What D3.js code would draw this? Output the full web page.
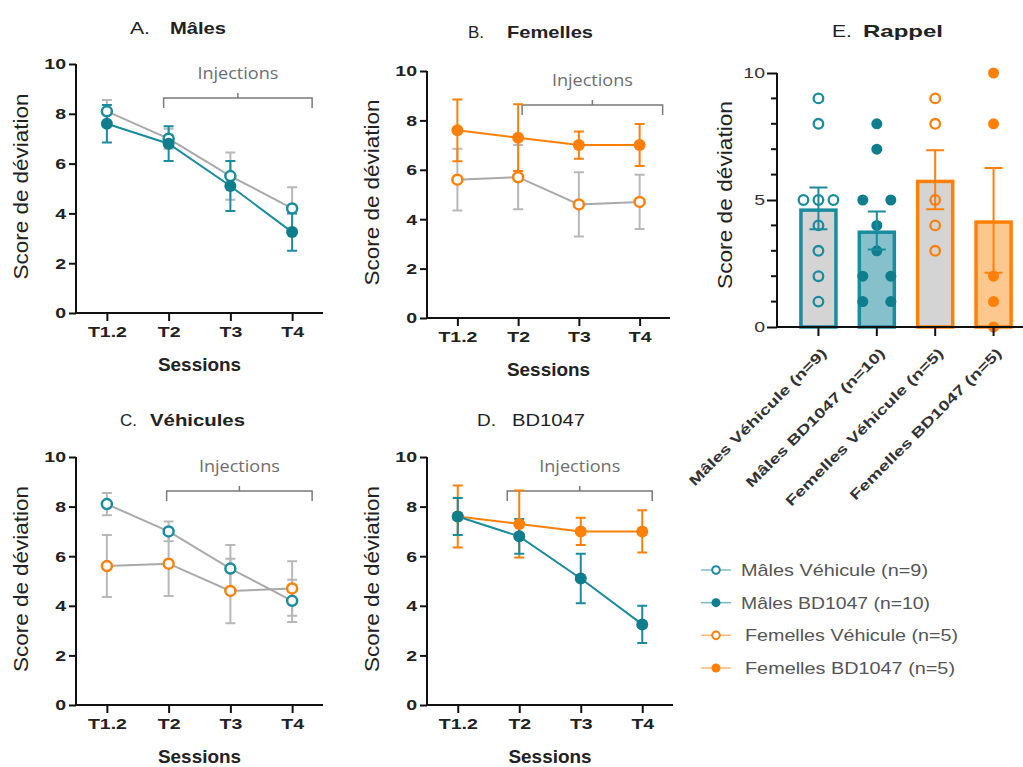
<!DOCTYPE html>
<html><head><meta charset="utf-8">
<script src="https://cdn.jsdelivr.net/npm/d3@7"></script>
<style>body{margin:0;background:#fff}svg{display:block}</style>
</head><body>
<svg id="c" width="1023" height="767"></svg>
<script>
// ---------- DATA ----------
const sessions = ["T1.2","T2","T3","T4"];
const yTicksLine = [0,2,4,6,8,10];
const malesVehMean = [8.1, 7.0, 5.5, 4.2];
const malesVehSem  = [0.45, 0.4, 0.95, 0.85];
const malesBDMean  = [7.6, 6.8, 5.1, 3.25];
const malesBDSem   = [0.75, 0.7, 1.0, 0.75];
const femVehMean   = [5.6, 5.7, 4.6, 4.7];
const femVehSem    = [1.25, 1.3, 1.3, 1.1];
const femBDMean    = [7.6, 7.3, 7.0, 7.0];
const femBDSem     = [1.25, 1.35, 0.55, 0.85];

const groups = ["Mâles Véhicule (n=9)","Mâles BD1047 (n=10)","Femelles Véhicule (n=5)","Femelles BD1047 (n=5)"];
const rappelMean = [4.67, 3.8, 5.8, 4.2];
const rappelSem  = [0.82, 0.75, 1.16, 2.06];
const rappelMalesVeh = [9,8,5,5,5,4,3,2,1];
const rappelMalesBD  = [8,7,5,5,4,3,2,2,1,1];
const rappelFemVeh   = [9,8,5,4,3];
const rappelFemBD    = [10,8,2,1,0];
const yTicksRappel = [0,5,10];
const yMinorRappel = [1,2,3,4,6,7,8,9];

// ---------- STYLE ----------
const TEAL = "#1a8c9e", TEAL_D = "#0e7d8d", ORANGE = "#ff8008", GRAY = "#a9a9a9", ERRGRAY = "#b8b8b8";
const svg = d3.select("#c");
const FONT = "'Liberation Sans', Arial, sans-serif";

function stretch(sel, f) {
  sel.each(function(){
    const L = this.getComputedTextLength();
    this.setAttribute("textLength", L*f);
    this.setAttribute("lengthAdjust","spacingAndGlyphs");
  });
}
function fit(sel, w) {
  sel.attr("textLength", w).attr("lengthAdjust","spacingAndGlyphs");
}

const series = {
  mv: {mean: malesVehMean, sem: malesVehSem, color: TEAL, filled:false},
  mb: {mean: malesBDMean, sem: malesBDSem, color: TEAL_D, filled:true},
  fv: {mean: femVehMean, sem: femVehSem, color: ORANGE, filled:false},
  fb: {mean: femBDMean, sem: femBDSem, color: ORANGE, filled:true}
};

function title(g, t) {
  fit(g.append("text").attr("x", t.lx).attr("y", t.by).style("font-family",FONT).style("font-size","17px")
    .attr("fill","#222").text(t.letter), t.lw);
  fit(g.append("text").attr("x", t.wx).attr("y", t.by).style("font-family",FONT).style("font-size","17px")
    .style("font-weight", t.bold ? "bold" : "normal").attr("fill","#222").text(t.word), t.ww);
}

function drawLinePanel(p) {
  const g = svg.append("g");
  const x = d3.scalePoint().domain(sessions).range([p.x0, p.x1]).padding(0.5);
  const y = d3.scaleLinear().domain([0,10]).range([p.y0, p.y1]);

  const ya = g.append("g").attr("transform", `translate(${p.x0},0)`)
    .call(d3.axisLeft(y).tickValues(yTicksLine).tickSize(7).tickSizeOuter(0).tickPadding(3));
  const xa = g.append("g").attr("transform", `translate(0,${p.y0})`)
    .call(d3.axisBottom(x).tickSize(8).tickSizeOuter(0).tickPadding(5));
  [ya, xa].forEach(a => {
    a.select(".domain").attr("stroke","#111").attr("stroke-width",2);
    a.selectAll(".tick line").attr("stroke","#111").attr("stroke-width",2);
    a.selectAll("text").attr("fill","#222").style("font-family",FONT).style("font-size","15px").style("font-weight","bold");
    stretch(a.selectAll("text"), 1.3);
  });
  xa.select(".domain").attr("d", `M${p.x0},0H${p.x1}`);
  ya.select(".domain").attr("d", `M0,${p.y0}V${p.y1}`);

  title(g, p.title);

  fit(g.append("text").attr("x", (p.x0+p.x1)/2).attr("y", p.y0 + 58).attr("text-anchor","middle")
    .style("font-family",FONT).style("font-size","18px").style("font-weight","bold").attr("fill","#222").text("Sessions"), 83);
  fit(g.append("text").attr("transform", `translate(${p.x0-48},${(p.y0+p.y1)/2 - 2}) rotate(-90)`).attr("text-anchor","middle")
    .style("font-family",FONT).style("font-size","20px").attr("fill","#222").text("Score de déviation"), 186);

  // injections bracket
  const bx0 = x("T2") + p.bOff0, bx1 = x("T4") + p.bOff1, by = p.y1 + 34, bm = (bx0+bx1)/2;
  g.append("path").attr("d", `M${bx0},${by+10}V${by}H${bx1}V${by+10}M${bm},${by}V${by-5}`)
    .attr("fill","none").attr("stroke","#7a7a7a").attr("stroke-width",1.5);
  fit(g.append("text").attr("x", bm).attr("y", by - 19).attr("text-anchor","middle")
    .style("font-family","'Open Sans', sans-serif").style("font-size","16px").attr("fill","#6e6e6e").text("Injections"), 81);

  const line = d3.line().x((d,i)=>x(sessions[i])).y(d=>y(d));
  p.series.forEach(s => {
    const S = series[s.key];
    const eg = g.append("g").attr("stroke", s.errColor).attr("stroke-width",2).attr("fill","none");
    S.mean.forEach((m,i) => {
      const cx = x(sessions[i]);
      eg.append("path").attr("d", `M${cx},${y(m-S.sem[i])}V${y(m+S.sem[i])}M${cx-5},${y(m-S.sem[i])}h10M${cx-5},${y(m+S.sem[i])}h10`);
    });
  });
  p.series.forEach(s => {
    const S = series[s.key];
    g.append("path").attr("d", line(S.mean)).attr("fill","none").attr("stroke", s.lineColor).attr("stroke-width",2);
  });
  p.series.forEach(s => {
    const S = series[s.key];
    S.mean.forEach((m,i) => {
      const c = g.append("circle").attr("cx", x(sessions[i])).attr("cy", y(m));
      if (S.filled) c.attr("r",6).attr("fill",S.color);
      else c.attr("r",5).attr("fill","#fff").attr("stroke",S.color).attr("stroke-width",2.5);
    });
  });
}

drawLinePanel({x0:76, x1:323, y0:313, y1:64, bOff0:-5, bOff1:20,
  title:{letter:"A.", word:"Mâles", lx:130, lw:20, wx:170, ww:56, by:34, bold:true},
  series:[{key:"mv", lineColor:GRAY, errColor:ERRGRAY},{key:"mb", lineColor:TEAL, errColor:TEAL}]});
drawLinePanel({x0:427, x1:670, y0:318, y1:71, bOff0:4, bOff1:23,
  title:{letter:"B.", word:"Femelles", lx:468, lw:16, wx:507, ww:86, by:38, bold:true},
  series:[{key:"fv", lineColor:GRAY, errColor:ERRGRAY},{key:"fb", lineColor:ORANGE, errColor:ORANGE}]});
drawLinePanel({x0:76, x1:323, y0:705, y1:457, bOff0:-2, bOff1:20,
  title:{letter:"C.", word:"Véhicules", lx:120, lw:17, wx:150, ww:95, by:426, bold:true},
  series:[{key:"mv", lineColor:GRAY, errColor:ERRGRAY},{key:"fv", lineColor:GRAY, errColor:ERRGRAY}]});
drawLinePanel({x0:427, x1:673, y0:705, y1:457, bOff0:-12, bOff1:10,
  title:{letter:"D.", word:"BD1047", lx:477, lw:19, wx:512, ww:73, by:426, bold:false},
  series:[{key:"fb", lineColor:ORANGE, errColor:ORANGE},{key:"mb", lineColor:TEAL, errColor:TEAL}]});

// ---------- PANEL E ----------
(function(){
  const X0 = 777, Y0 = 327, Y1 = 73;
  const g = svg.append("g");
  const x = d3.scaleBand().domain(groups).range([X0, 1035]).paddingInner(0.34).paddingOuter(0.38);
  const y = d3.scaleLinear().domain([0,10]).range([Y0, Y1]);
  const strokes = [TEAL, TEAL, ORANGE, ORANGE];
  const fills = ["#d4d4d4", "#86c0cb", "#d4d4d4", "#fdc890"];
  const dotColors = [TEAL, TEAL_D, ORANGE, ORANGE];
  const filled = [false, true, false, true];
  const pts = [rappelMalesVeh, rappelMalesBD, rappelFemVeh, rappelFemBD];

  groups.forEach((gr,i) => {
    g.append("rect").attr("x", x(gr)+1.75).attr("y", y(rappelMean[i])+1.75)
      .attr("width", x.bandwidth()-3.5).attr("height", Y0 - y(rappelMean[i]) - 1.75)
      .attr("fill", fills[i]).attr("stroke", strokes[i]).attr("stroke-width",3.5);
  });
  groups.forEach((gr,i) => {
    const cx = x(gr) + x.bandwidth()/2;
    const counts = d3.rollup(pts[i], v=>v.length, d=>d);
    const seen = new Map();
    pts[i].forEach(v => {
      const k = counts.get(v), j = seen.get(v) || 0; seen.set(v, j+1);
      const off = k === 1 ? 0 : (k === 2 ? (j===0?-14:14) : (j-(k-1)/2)*15);
      const c = g.append("circle").attr("cx", cx+off).attr("cy", y(v));
      if (filled[i]) c.attr("r",5.5).attr("fill",dotColors[i]);
      else c.attr("r",4.8).attr("fill","none").attr("stroke",dotColors[i]).attr("stroke-width",2.3);
    });
  });
  groups.forEach((gr,i) => {
    const cx = x(gr) + x.bandwidth()/2, lo = y(rappelMean[i]-rappelSem[i]), hi = y(rappelMean[i]+rappelSem[i]);
    g.append("path").attr("d", `M${cx},${lo}V${hi}M${cx-9},${lo}h18M${cx-9},${hi}h18`)
      .attr("stroke", strokes[i]).attr("stroke-width",2).attr("fill","none");
  });

  const ya = g.append("g").attr("transform", `translate(${X0},0)`)
    .call(d3.axisLeft(y).tickValues(yTicksRappel).tickSize(10).tickSizeOuter(0).tickPadding(2));
  ya.selectAll(".tick line").attr("stroke","#111").attr("stroke-width",2);
  ya.select(".domain").attr("stroke","#111").attr("stroke-width",2).attr("d", `M0,${Y0}V${Y1}`);
  ya.selectAll("text").attr("fill","#333").style("font-family",FONT).style("font-size","15px");
  stretch(ya.selectAll("text"), 1.3);
  g.append("g").selectAll("line").data(yMinorRappel).join("line")
    .attr("x1", X0-6).attr("x2", X0).attr("y1", d=>y(d)).attr("y2", d=>y(d)).attr("stroke","#111").attr("stroke-width",2);

  const xa = g.append("g").attr("transform", `translate(0,${Y0})`)
    .call(d3.axisBottom(x).tickSize(9).tickSizeOuter(0).tickFormat(""));
  xa.select(".domain").attr("stroke","#111").attr("stroke-width",2).attr("d", `M${X0},0H1023`);
  xa.selectAll(".tick line").attr("stroke","#111").attr("stroke-width",2);
  groups.forEach(gr => {
    const cx = x(gr) + x.bandwidth()/2;
    const t = g.append("text").attr("transform", `translate(${cx+9},${Y0+27}) rotate(-45)`).attr("text-anchor","end")
      .style("font-family",FONT).style("font-size","14px").style("font-weight","bold").attr("fill","#333").text(gr);
    stretch(t, 1.36);
  });

  title(g, {letter:"E.", word:"Rappel", lx:832, lw:20, wx:863, ww:80, by:37, bold:true});
  fit(g.append("text").attr("transform", `translate(732,${(Y0+Y1)/2 - 5}) rotate(-90)`).attr("text-anchor","middle")
    .style("font-family",FONT).style("font-size","20px").attr("fill","#222").text("Score de déviation"), 188);
})();

// ---------- LEGEND ----------
(function(){
  const items = [
    {label: groups[0], color: TEAL, filled:false, tx:741, w:187},
    {label: groups[1], color: TEAL_D, filled:true, tx:741, w:189},
    {label: groups[2], color: ORANGE, filled:false, tx:745, w:213},
    {label: groups[3], color: ORANGE, filled:true, tx:745, w:210}
  ];
  const ly = d3.scalePoint().domain(groups).range([570, 668]);
  const g = svg.append("g");
  items.forEach(it => {
    const yy = ly(it.label);
    g.append("line").attr("x1",701).attr("x2",731).attr("y1",yy).attr("y2",yy)
      .attr("stroke", it.color).attr("stroke-opacity",0.55).attr("stroke-width",1.5);
    const c = g.append("circle").attr("cx",716).attr("cy",yy);
    if (it.filled) c.attr("r",4.5).attr("fill",it.color);
    else c.attr("r",3.8).attr("fill","#fff").attr("stroke",it.color).attr("stroke-width",2);
    fit(g.append("text").attr("x",it.tx).attr("y",yy+6).style("font-family",FONT).style("font-size","17px")
      .attr("fill","#555").text(it.label), it.w);
  });
})();
</script>
</body></html>
